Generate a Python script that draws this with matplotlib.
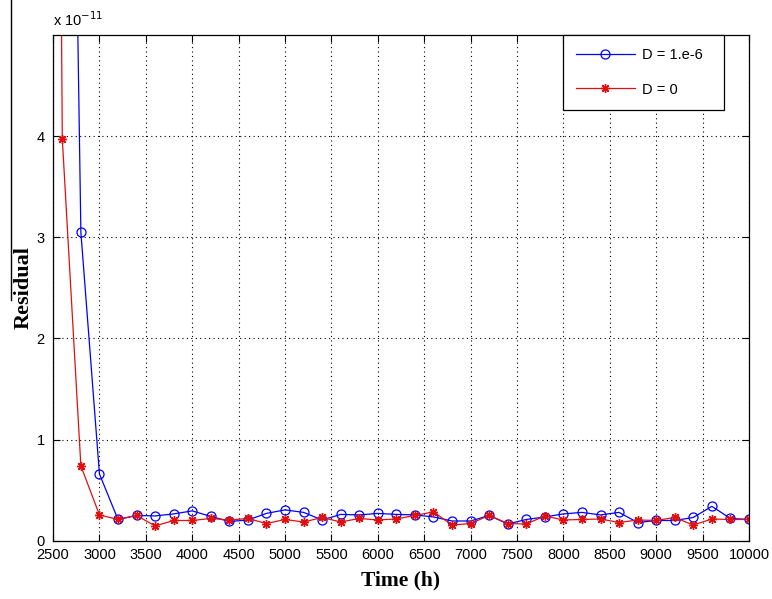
import matplotlib
matplotlib.use("Agg")
import matplotlib.pyplot as plt
from matplotlib.lines import Line2D

# time axis (h), one point every 200 h; 2400 lies outside the plotted range
time_h = [2400, 2600, 2800, 3000, 3200, 3400, 3600, 3800, 4000, 4200, 4400,
          4600, 4800, 5000, 5200, 5400, 5600, 5800, 6000, 6200, 6400,
          6600, 6800, 7000, 7200, 7400, 7600, 7800, 8000, 8200, 8400,
          8600, 8800, 9000, 9200, 9400, 9600, 9800, 10000]

# residuals in units of 1e-11
res_d1e6 = [30.0, 15.0, 3.05, 0.66, 0.21, 0.25, 0.245, 0.265, 0.295, 0.24, 0.19,
            0.205, 0.27, 0.305, 0.28, 0.205, 0.26, 0.255, 0.27, 0.26, 0.255,
            0.235, 0.195, 0.195, 0.25, 0.165, 0.21, 0.235, 0.265, 0.28, 0.255,
            0.28, 0.18, 0.20, 0.20, 0.23, 0.34, 0.22, 0.21]
res_d0 = [29.0, 3.97, 0.74, 0.255, 0.21, 0.25, 0.146, 0.20, 0.20, 0.22, 0.205,
          0.22, 0.17, 0.21, 0.185, 0.23, 0.185, 0.22, 0.205, 0.215, 0.25,
          0.285, 0.155, 0.17, 0.25, 0.17, 0.165, 0.245, 0.205, 0.21, 0.215,
          0.18, 0.205, 0.20, 0.23, 0.155, 0.215, 0.21, 0.21]

x_ticks = list(range(2500, 10001, 500))
y_ticks = [0, 1, 2, 3, 4]

fig = plt.figure(figsize=(7.72, 5.99), dpi=100)
ax = fig.add_axes([0.0687, 0.0973, 0.9015, 0.8443])

ax.plot(time_h, res_d1e6, color="#0000ff", lw=0.9, marker="o", ms=6.5,
        mfc="none", mec="#0000ff", mew=0.9, label="D = 1.e-6")
ax.plot(time_h, res_d0, color="#e01010", lw=0.9, marker=(8, 2, 0), ms=6.5,
        mec="#e01010", mew=1.0, label="D = 0")

ax.set_xlim(2500, 10000)
ax.set_ylim(0, 5)
ax.set_xticks(x_ticks)
ax.set_yticks(y_ticks)
ax.tick_params(direction="in", top=True, right=True, length=5, width=0.8,
               labelsize=10.5)
ax.tick_params(axis="x", pad=5)
ax.tick_params(axis="y", pad=6)
for lab in ax.get_xticklabels() + ax.get_yticklabels():
    lab.set_family("Liberation Sans")
ax.grid(True, color="black", linestyle=(0, (1, 3)), linewidth=0.8)
for s in ax.spines.values():
    s.set_linewidth(0.9)

ax.text(0.0, 1.012, r"x 10$^{-11}$", transform=ax.transAxes, fontsize=10.5,
        family="Liberation Sans", ha="left", va="bottom")

ax.set_xlabel("Time (h)", fontsize=15.5, fontweight="bold",
              family="Liberation Serif", labelpad=6)
ax.set_ylabel("Residual", fontsize=16, fontweight="bold",
              family="Liberation Serif", labelpad=2)

leg = ax.legend(loc="upper left", bbox_to_anchor=(0.733, 0.0, 0.231, 1.0),
                mode="expand",
                prop={"family": "Liberation Sans", "size": 10.5},
                fancybox=False, edgecolor="black", framealpha=1,
                handlelength=4.0, borderpad=0.9, labelspacing=1.4,
                handletextpad=0.5, borderaxespad=0.0)
leg.get_frame().set_linewidth(0.9)

# stray vertical rule at the left edge of the original image
fig.add_artist(Line2D([11 / 772, 11 / 772], [1.0, 1 - 300 / 599],
                      color="black", lw=1.0))

fig.savefig("out.png", dpi=100)
